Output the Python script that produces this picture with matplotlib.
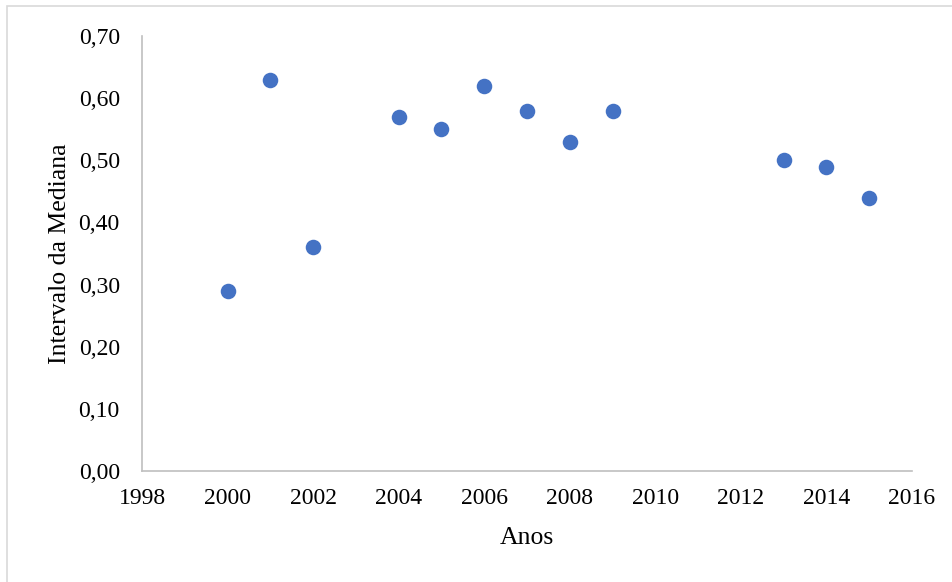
import matplotlib
matplotlib.use("Agg")
import matplotlib.pyplot as plt
from matplotlib.patches import Rectangle

# values
anos = [2000, 2001, 2002, 2004, 2005, 2006, 2007, 2008, 2009, 2013, 2014, 2015]
intervalo = [0.29, 0.63, 0.36, 0.57, 0.55, 0.62, 0.58, 0.53, 0.58, 0.50, 0.49, 0.44]
x_ticks = list(range(1998, 2017, 2))
y_ticks = [0.0, 0.1, 0.2, 0.3, 0.4, 0.5, 0.6, 0.7]

plt.rcParams["font.family"] = ["Liberation Serif", "DejaVu Serif"]

W, H = 953, 582
fig = plt.figure(figsize=(W / 100, H / 100), dpi=100)

# chart frame (partly outside the crop)
fig.patches.append(Rectangle((7 / W, -0.1), 1.2, 1.1 - 6 / H, transform=fig.transFigure,
                             fill=False, edgecolor="#d9d9d9", linewidth=1.2))

ax = fig.add_axes([142 / W, 1 - 471 / H, (912 - 142) / W, (471 - 36) / H])
ax.scatter(anos, intervalo, s=125, color="#4472C4", zorder=3, linewidths=0)

ax.set_xlim(1998, 2016)
ax.set_ylim(0, 0.7)
ax.set_xticks(x_ticks)
ax.set_yticks(y_ticks)
ax.set_yticklabels([f"{v:.2f}".replace(".", ",") for v in y_ticks])

for side in ["top", "right"]:
    ax.spines[side].set_visible(False)
for side in ["left", "bottom"]:
    ax.spines[side].set_color("#bfbfbf")
    ax.spines[side].set_linewidth(1.2)

ax.tick_params(axis="both", length=0, labelsize=17)
ax.tick_params(axis="y", pad=16)
ax.tick_params(axis="x", pad=12)

ax.set_xlabel("Anos", fontsize=18.5, va="center")
ax.set_ylabel("Intervalo da Mediana", fontsize=18.5, va="center")
# axis titles placed as in the reference
ax.xaxis.set_label_coords((527 - 142) / (912 - 142), -(538 - 471) / (471 - 36))
ax.yaxis.set_label_coords(-(142 - 60) / (912 - 142), 0.5)

plt.savefig("out.png", dpi=100)
